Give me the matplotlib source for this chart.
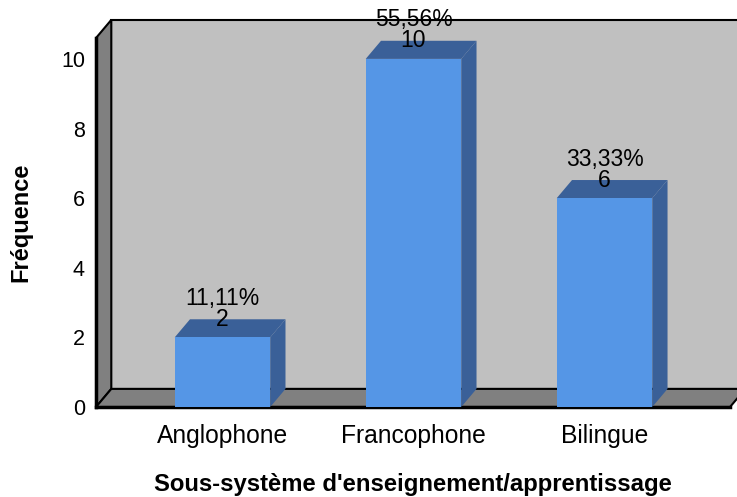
import matplotlib
matplotlib.use("Agg")
from matplotlib import pyplot as plt
from matplotlib.patches import Polygon, Rectangle

# data
categories = ["Anglophone", "Francophone", "Bilingue"]
frequences = [2, 10, 6]
pourcentages = ["11,11%", "55,56%", "33,33%"]
yticks = [0, 2, 4, 6, 8, 10]

plt.rcParams['font.family'] = ['Liberation Sans', 'DejaVu Sans']

fig = plt.figure(figsize=(7.37, 4.97), dpi=100)
# axes = front plane of the 3d box
ax = fig.add_axes([96 / 737, 90 / 497, 634 / 737, 369 / 497])
x0, x1 = -0.662, 2.657
ytop = 10.6
ax.set_xlim(x0, x1)
ax.set_ylim(0, ytop)

# profondeur (effet 3d)
dx = 0.08
dy = 0.52
w = 0.5

grey = "#808080"
wall = "#c0c0c0"
front = "#5596e6"
dark = "#3a6098"

# mur du fond
ax.add_patch(Rectangle((x0 + dx, dy), 5, ytop, facecolor=wall, edgecolor="black",
                       lw=1.5, clip_on=False, zorder=1))
# mur de gauche
ax.add_patch(Polygon([(x0, 0), (x0 + dx, dy), (x0 + dx, ytop + dy), (x0, ytop)],
                     facecolor=grey, edgecolor="black", lw=1.5, clip_on=False, zorder=2))
# sol
ax.add_patch(Polygon([(x0, 0), (x1, 0), (x1 + dx, dy), (x0 + dx, dy)],
                     facecolor=grey, edgecolor="black", lw=1.5, clip_on=False, zorder=2))
ax.plot([x0, x0], [0, ytop], color="black", lw=2.5, clip_on=False, zorder=3)
ax.plot([x0, x1], [0, 0], color="black", lw=2.5, clip_on=False, zorder=3)

# barres
for i, v in enumerate(frequences):
    left = i - w / 2
    right = i + w / 2
    ax.add_patch(Polygon([(right, 0), (right + dx, dy), (right + dx, v + dy), (right, v)],
                         facecolor=dark, edgecolor="none", clip_on=False, zorder=4))
    ax.add_patch(Polygon([(left, v), (right, v), (right + dx, v + dy), (left + dx, v + dy)],
                         facecolor=dark, edgecolor="none", clip_on=False, zorder=4))
    ax.add_patch(Rectangle((left, 0), w, v, facecolor=front, edgecolor="none",
                           clip_on=False, zorder=5))
    ax.text(i, v + dy, str(v), ha="center", va="center", fontsize=16.5, zorder=6)
    ax.text(i, v + dy + 0.6, pourcentages[i], ha="center", va="center",
            fontsize=16.5, zorder=6)

for s in ax.spines.values():
    s.set_visible(False)
ax.set_facecolor("none")
ax.set_yticks(yticks)
ax.set_yticklabels([str(t) for t in yticks], fontsize=15.5)
ax.set_xticks(range(len(categories)))
ax.set_xticklabels(categories, fontsize=17.7)
ax.tick_params(axis="both", length=0)
ax.tick_params(axis="y", pad=8)
ax.tick_params(axis="x", pad=12)

ax.set_ylabel("Fréquence", fontsize=17, fontweight="bold")
ax.yaxis.set_label_coords(-0.101, 0.5)
ax.set_xlabel("Sous-système d'enseignement/apprentissage", fontsize=17.2,
              fontweight="bold")
ax.xaxis.set_label_coords(0.5, -0.18)

plt.savefig("out.png", dpi=100)
